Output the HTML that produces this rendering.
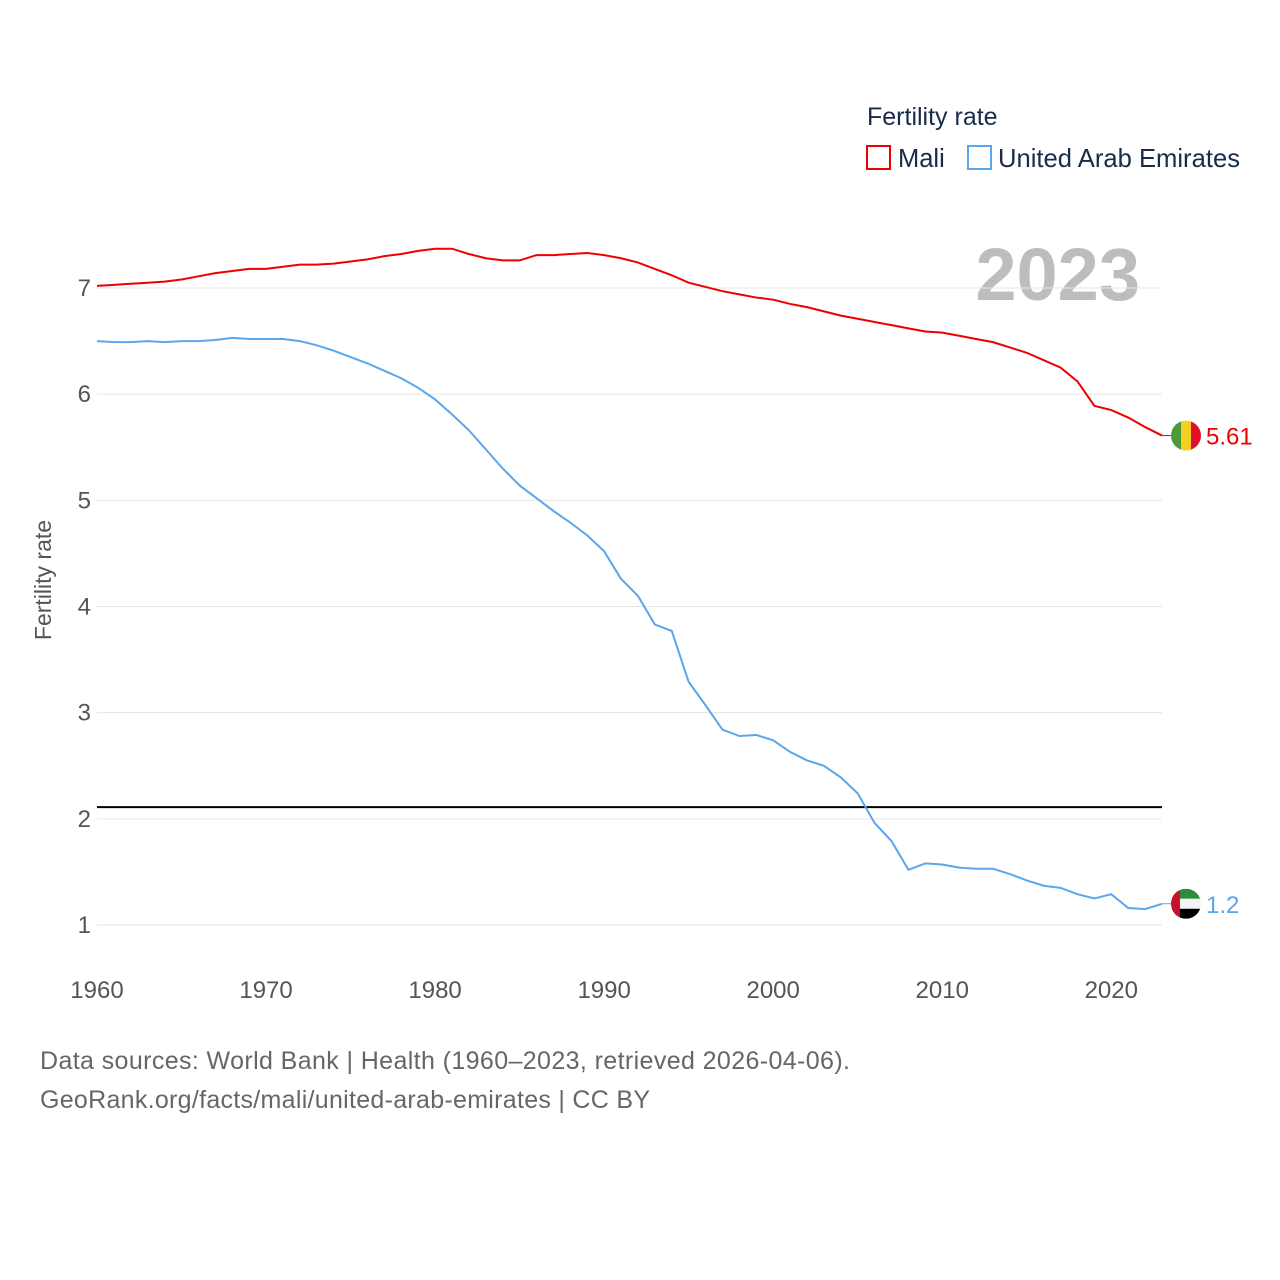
<!DOCTYPE html>
<html><head><meta charset="utf-8">
<style>
body{margin:0;background:#fff;}
svg{display:block;font-family:"Liberation Sans",sans-serif;}
</style></head>
<body>
<svg id="chart" width="1280" height="1280" viewBox="0 0 1280 1280">
<text x="867" y="125" font-size="25" fill="#1a2a4a">Fertility rate</text>
<rect x="867" y="146" width="23" height="23" fill="none" stroke="#e00" stroke-width="2"/>
<text x="898" y="167" font-size="25.5" fill="#1a2a4a">Mali</text>
<rect x="968" y="146" width="23" height="23" fill="none" stroke="#5aa6ee" stroke-width="2"/>
<text x="998" y="167" font-size="25.6" fill="#1a2a4a" textLength="242">United Arab Emirates</text>
<text x="1140" y="300" font-size="74" font-weight="bold" fill="#bdbdbd" text-anchor="end">2023</text>
<g id="grid"></g>
<g id="series"></g>
<text transform="translate(51,580) rotate(-90)" font-size="23" fill="#555" text-anchor="middle">Fertility rate</text>
<text x="40" y="1069" font-size="25" fill="#666" textLength="810">Data sources: World Bank | Health (1960–2023, retrieved 2026-04-06).</text>
<text x="40" y="1108" font-size="25" fill="#666" textLength="610">GeoRank.org/facts/mali/united-arab-emirates | CC BY</text>
</svg>
<script>
const years=[];for(let y=1960;y<=2023;y++)years.push(y);
const maliValues=[7.02,7.03,7.04,7.05,7.06,7.08,7.11,7.14,7.16,7.18,7.18,7.2,7.22,7.22,7.23,7.25,7.27,7.3,7.32,7.35,7.37,7.37,7.32,7.28,7.26,7.26,7.31,7.31,7.32,7.33,7.31,7.28,7.24,7.18,7.12,7.05,7.01,6.97,6.94,6.91,6.89,6.85,6.82,6.78,6.74,6.71,6.68,6.65,6.62,6.59,6.58,6.55,6.52,6.49,6.44,6.39,6.32,6.25,6.12,5.89,5.85,5.78,5.69,5.61];
const uaeValues=[6.5,6.49,6.49,6.5,6.49,6.5,6.5,6.51,6.53,6.52,6.52,6.52,6.5,6.46,6.41,6.35,6.29,6.22,6.15,6.06,5.95,5.81,5.66,5.48,5.3,5.14,5.02,4.9,4.79,4.67,4.52,4.26,4.1,3.83,3.77,3.29,3.07,2.84,2.78,2.79,2.74,2.63,2.55,2.5,2.39,2.24,1.96,1.79,1.52,1.58,1.57,1.54,1.53,1.53,1.48,1.42,1.37,1.35,1.29,1.25,1.29,1.16,1.15,1.2];
const yTicks=[1,2,3,4,5,6,7];
const xTicks=[1960,1970,1980,1990,2000,2010,2020];
const replacementRate=2.11;
const maliLabel="5.61", uaeLabel="1.2";

const NS="http://www.w3.org/2000/svg";
const X=y=>97+(y-1960)*(1162-97)/63;
const Y=v=>925-(v-1)*(925-288)/6;
function mk(tag,attrs,parent){const e=document.createElementNS(NS,tag);for(const k in attrs)e.setAttribute(k,attrs[k]);parent.appendChild(e);return e;}
const grid=document.getElementById('grid'),series=document.getElementById('series');
yTicks.forEach(t=>{
 const l=mk('line',{x1:97,x2:1162,y1:Y(t),y2:Y(t),stroke:'#e6e6e6','stroke-width':1},grid);
 
 
 const tx=mk('text',{x:91,y:Y(t)+8,'font-size':24,fill:'#555','text-anchor':'end'},grid);tx.textContent=t;
 
 
});
xTicks.forEach(t=>{
 const tx=mk('text',{x:X(t),y:998,'font-size':24,fill:'#555','text-anchor':'middle'},grid);tx.textContent=t;
 
 
});
const rl=mk('line',{x1:97,x2:1162,y1:Y(replacementRate),y2:Y(replacementRate),stroke:'#000','stroke-width':2},series);


function line(vals,color,name){
 const p=mk('polyline',{points:vals.map((v,i)=>X(years[i])+','+Y(v)).join(' '),fill:'none',stroke:color,'stroke-width':2},series);
 
 
}
line(maliValues,'#e00','mali-line');
line(uaeValues,'#5aa6ee','uae-line');
const cx=1186;
const my=Y(maliValues[maliValues.length-1]), uy=Y(uaeValues[uaeValues.length-1]);
mk('line',{x1:1162,x2:1172,y1:my,y2:my,stroke:'#e00','stroke-width':1},series);
mk('line',{x1:1162,x2:1172,y1:uy,y2:uy,stroke:'#5aa6ee','stroke-width':1},series);
const defs=mk('defs',{},series);
const c1=mk('clipPath',{id:'cm'},defs);mk('circle',{cx:cx,cy:my,r:15},c1);
const c2=mk('clipPath',{id:'cu'},defs);mk('circle',{cx:cx,cy:uy,r:15},c2);
const fm=mk('g',{'clip-path':'url(#cm)'},series);


mk('rect',{x:cx-15,y:my-15,width:10,height:30,fill:'#4a9a3a'},fm);
mk('rect',{x:cx-5,y:my-15,width:10,height:30,fill:'#f5d020'},fm);
mk('rect',{x:cx+5,y:my-15,width:10,height:30,fill:'#e0102a'},fm);
const fu=mk('g',{'clip-path':'url(#cu)'},series);


mk('rect',{x:cx-15,y:uy-15,width:30,height:10,fill:'#2e8b3a'},fu);
mk('rect',{x:cx-15,y:uy-5,width:30,height:10,fill:'#f4f4f4'},fu);
mk('rect',{x:cx-15,y:uy+5,width:30,height:10,fill:'#000'},fu);
mk('rect',{x:cx-15,y:uy-15,width:9,height:30,fill:'#c8102e'},fu);
const t1=mk('text',{x:1206,y:my+9,'font-size':24,fill:'#e00'},series);t1.textContent=maliLabel;


const t2=mk('text',{x:1206,y:uy+9,'font-size':24,fill:'#5aa6ee'},series);t2.textContent=uaeLabel;


</script>
</body></html>
